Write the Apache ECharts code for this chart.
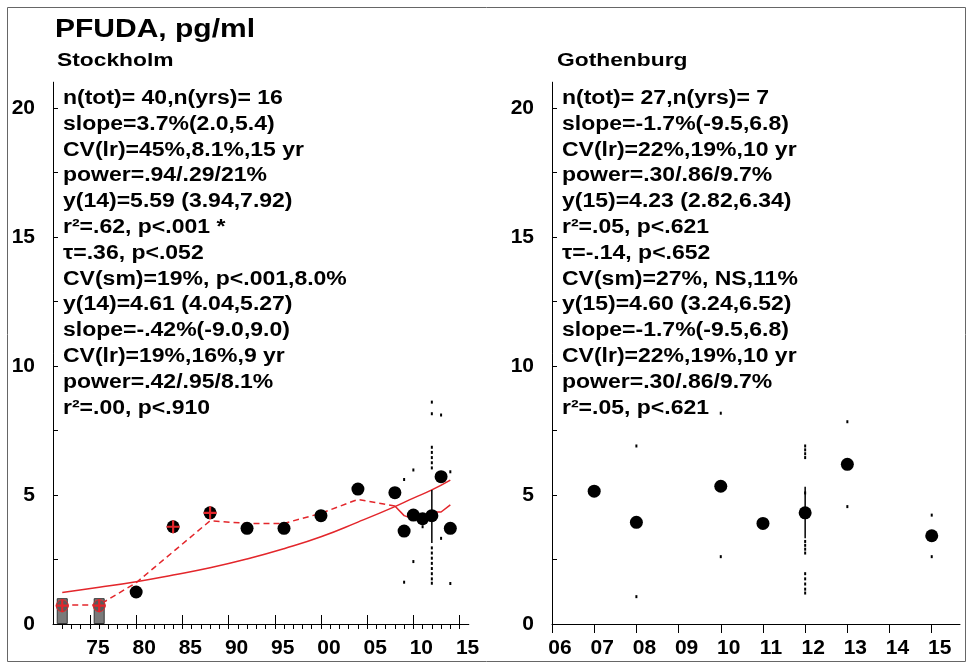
<!DOCTYPE html>
<html><head><meta charset="utf-8">
<script src="https://cdn.jsdelivr.net/npm/echarts@6/dist/echarts.min.js"></script>
<style>html,body{margin:0;padding:0;background:#fff}#c{width:969px;height:668px}</style>
</head><body><div id="c"></div>
<script>
const title = 'PFUDA, pg/ml';
const siteNames = ['Stockholm', 'Gothenburg'];
const yLabelValues = [0, 5, 10, 15, 20];
const yTickValues = [2.5, 5, 7.5, 10, 12.5, 15, 17.5, 20];
const sthlmLabelYears = [1975, 1980, 1985, 1990, 1995, 2000, 2005, 2010, 2015];
const sthlmTickYears = [1972,1973,1974,1975,1976,1977,1978,1979,1980,1981,1982,1983,1984,1985,1986,1987,1988,1989,1990,1991,1992,1993,1994,1995,1996,1997,1998,1999,2000,2001,2002,2003,2004,2005,2006,2007,2008,2009,2010,2011,2012,2013,2014,2015];
const gbgLabelYears = [2006, 2007, 2008, 2009, 2010, 2011, 2012, 2013, 2014, 2015];

// Stockholm
const sthlmMeans = [[1980,1.24],[1984,3.77],[1988,4.31],[1992,3.71],[1996,3.71],[2000,4.2],[2004,5.23],[2008,5.09],[2009,3.6],[2010,4.22],[2011,4.08],[2012,4.2],[2013,5.71],[2014,3.71]];
const sthlmLodBars = [[1972,1.0],[1976,1.0]];
const sthlmLodPoints = [[1972,0.71],[1976,0.71]];
const sthlmCrosses = [[1972,0.71],[1976,0.71],[1984,3.77],[1988,4.31]];
const sthlmRegression = [[1972,1.22],[1976,1.42],[1980,1.64],[1984,1.9],[1988,2.18],[1992,2.52],[1996,2.92],[2000,3.38],[2004,3.95],[2008,4.55],[2010,4.88],[2012,5.2],[2014,5.58]];
const sthlmSmooth = [[1972,0.73],[1976,0.74],[1980,1.6],[1984,2.8],[1988,4.0],[1992,3.9],[1996,3.9],[2000,4.29],[2004,4.83],[2008,4.57]];
const sthlmSmoothRecent = [[2008,4.57],[2009,4.2],[2010,4.08],[2011,4.03],[2012,4.34],[2013,4.34],[2014,4.62]];
const sthlmCI = [[2012,5.19],[2012,3.14]];
const sthlmIndividual = [[2009,5.6],[2009,1.62],[2010,5.97],[2010,2.42],[2011,3.77],[2013,8.1],[2013,3.32],[2014,5.9],[2014,1.57],
  [2012,8.6],[2012,8.15],[2012,6.85],[2012,6.65],[2012,6.45],[2012,6.25],[2012,6.05],[2012,2.95],[2012,2.75],[2012,2.55],[2012,2.35],[2012,2.15],[2012,1.95],[2012,1.75],[2012,1.58]];
const sthlmStats = ['n(tot)= 40,n(yrs)= 16','slope=3.7%(2.0,5.4)','CV(lr)=45%,8.1%,15 yr','power=.94/.29/21%','y(14)=5.59 (3.94,7.92)','r\u00b2=.62, p<.001 *','\u03c4=.36, p<.052','CV(sm)=19%, p<.001,8.0%','y(14)=4.61 (4.04,5.27)','slope=-.42%(-9.0,9.0)','CV(lr)=19%,16%,9 yr','power=.42/.95/8.1%','r\u00b2=.00, p<.910'];

// Gothenburg
const gbgMeans = [[2007,5.15],[2008,3.94],[2010,5.34],[2011,3.9],[2012,4.31],[2013,6.19],[2015,3.42]];
const gbgCI = [[2012,5.32],[2012,3.32]];
const gbgIndividual = [[2008,6.9],[2008,1.06],[2010,8.17],[2010,2.61],[2013,7.84],[2013,4.55],[2015,4.22],[2015,2.61],
  [2012,6.9],[2012,6.75],[2012,6.6],[2012,6.45],[2012,5.08],[2012,3.2],[2012,3.05],[2012,2.9],[2012,2.75],[2012,1.95],[2012,1.75],[2012,1.55],[2012,1.35],[2012,1.2]];
const gbgStats = ['n(tot)= 27,n(yrs)= 7','slope=-1.7%(-9.5,6.8)','CV(lr)=22%,19%,10 yr','power=.30/.86/9.7%','y(15)=4.23 (2.82,6.34)','r\u00b2=.05, p<.621','\u03c4=-.14, p<.652','CV(sm)=27%, NS,11%','y(15)=4.60 (3.24,6.52)','slope=-1.7%(-9.5,6.8)','CV(lr)=22%,19%,10 yr','power=.30/.86/9.7%','r\u00b2=.05, p<.621'];

const FONT = '"Liberation Sans", Arial, Helvetica, sans-serif';
const RED = '#e3262b';
const CROSS = 'path://M5,0L7,0L7,5L12,5L12,7L7,7L7,12L5,12L5,7L0,7L0,5L5,5Z';

const chart = echarts.init(document.getElementById('c'), null, {renderer: 'canvas'});

const yAxisCommon = {
  type: 'value', min: 0, max: 21,
  axisLine: {show: true, lineStyle: {color: '#000', width: 1}},
  axisTick: {show: true, inside: true, length: 5, customValues: yTickValues, lineStyle: {color: '#000'}},
  axisLabel: {customValues: yLabelValues, color: '#000', fontSize: 21, fontWeight: 'bold', fontFamily: FONT, margin: 18},
  splitLine: {show: false}
};
const yrFmt = v => String(Math.round(v) % 100).padStart(2, '0');

const option = {
  animation: false,
  backgroundColor: '#fff',
  grid: [
    {left: 53, top: 82.2, width: 415.8, height: 541.8},
    {left: 552, top: 82.2, width: 408, height: 541.8}
  ],
  xAxis: [
    {type: 'value', gridIndex: 0, min: 1971, max: 2016,
     axisLine: {show: true, onZero: false, lineStyle: {color: '#000'}},
     axisTick: {show: true, length: 5, customValues: sthlmTickYears, lineStyle: {color: '#000'}},
     axisLabel: {customValues: sthlmLabelYears, formatter: yrFmt, color: '#000', fontSize: 21, fontWeight: 'bold', fontFamily: FONT, margin: 14, padding: [0, 0, 0, 16]},
     splitLine: {show: false}},
    {type: 'value', gridIndex: 0, min: 1971, max: 2016,
     axisLine: {show: false},
     axisTick: {show: true, length: 9, customValues: sthlmLabelYears, lineStyle: {color: '#000'}},
     axisLabel: {show: false}, splitLine: {show: false}},
    {type: 'value', gridIndex: 1, min: 2006, max: 2015.67,
     axisLine: {show: true, onZero: false, lineStyle: {color: '#000'}},
     axisTick: {show: true, length: 9, customValues: gbgLabelYears, lineStyle: {color: '#000'}},
     axisLabel: {customValues: gbgLabelYears, formatter: yrFmt, color: '#000', fontSize: 21, fontWeight: 'bold', fontFamily: FONT, margin: 14, padding: [0, 0, 0, 16]},
     splitLine: {show: false}}
  ],
  yAxis: [
    Object.assign({gridIndex: 0}, yAxisCommon),
    Object.assign({gridIndex: 1}, yAxisCommon)
  ],
  series: [
    {type: 'bar', xAxisIndex: 0, yAxisIndex: 0, data: sthlmLodBars, barWidth: 11,
     itemStyle: {color: '#7a7a7a', borderColor: '#333', borderWidth: 1}, z: 2},
    {type: 'line', xAxisIndex: 0, yAxisIndex: 0, data: sthlmRegression, symbol: 'none', smooth: true,
     lineStyle: {color: RED, width: 1.5}, z: 3},
    {type: 'line', xAxisIndex: 0, yAxisIndex: 0, data: sthlmSmooth, symbol: 'none',
     lineStyle: {color: RED, width: 1.5, type: [6, 4]}, z: 3},
    {type: 'line', xAxisIndex: 0, yAxisIndex: 0, data: sthlmSmoothRecent, symbol: 'none',
     lineStyle: {color: RED, width: 1.5}, z: 3},
    {type: 'line', xAxisIndex: 0, yAxisIndex: 0, data: sthlmCI, symbol: 'none',
     lineStyle: {color: '#000', width: 1.5}, z: 4},
    {type: 'scatter', xAxisIndex: 0, yAxisIndex: 0, data: sthlmIndividual, symbol: 'rect', symbolSize: [2, 3],
     itemStyle: {color: '#000', opacity: 1}, z: 4},
    {type: 'scatter', xAxisIndex: 0, yAxisIndex: 0, data: sthlmLodPoints, symbol: 'circle', symbolSize: 12,
     itemStyle: {color: '#5a5a5a', borderColor: RED, borderWidth: 1, opacity: 1}, z: 5},
    {type: 'scatter', xAxisIndex: 0, yAxisIndex: 0, data: sthlmMeans, symbol: 'circle', symbolSize: 13,
     itemStyle: {color: '#000', opacity: 1}, z: 5},
    {type: 'scatter', xAxisIndex: 0, yAxisIndex: 0, data: sthlmCrosses, symbol: CROSS, symbolSize: 13,
     itemStyle: {color: RED, opacity: 1}, z: 6},
    {type: 'line', xAxisIndex: 2, yAxisIndex: 1, data: gbgCI, symbol: 'none',
     lineStyle: {color: '#000', width: 1.5}, z: 4},
    {type: 'scatter', xAxisIndex: 2, yAxisIndex: 1, data: gbgIndividual, symbol: 'rect', symbolSize: [2, 3],
     itemStyle: {color: '#000', opacity: 1}, z: 4},
    {type: 'scatter', xAxisIndex: 2, yAxisIndex: 1, data: gbgMeans, symbol: 'circle', symbolSize: 13,
     itemStyle: {color: '#000', opacity: 1}, z: 5}
  ],
  graphic: [
    {type: 'rect', shape: {x: 7.5, y: 7.5, width: 958, height: 654}, style: {fill: 'none', stroke: '#666', lineWidth: 1}, silent: true},
    {type: 'text', x: 55, y: 30, scaleX: 1.2, style: {text: title, font: 'bold 25px ' + FONT, fill: '#000', textVerticalAlign: 'middle'}},
    {type: 'text', x: 57, y: 61, scaleX: 1.2, style: {text: siteNames[0], font: 'bold 19px ' + FONT, fill: '#000', textVerticalAlign: 'middle'}},
    {type: 'text', x: 557, y: 61, scaleX: 1.2, style: {text: siteNames[1], font: 'bold 19px ' + FONT, fill: '#000', textVerticalAlign: 'middle'}},
    {type: 'text', x: 63, y: 85.5, scaleX: 1.15, style: {text: sthlmStats.join('\n'), font: 'bold 20px ' + FONT, lineHeight: 25.8, fill: '#000', textVerticalAlign: 'top'}},
    {type: 'text', x: 562, y: 85.5, scaleX: 1.15, style: {text: gbgStats.join('\n'), font: 'bold 20px ' + FONT, lineHeight: 25.8, fill: '#000', textVerticalAlign: 'top'}}
  ]
};
chart.setOption(option);
</script></body></html>
